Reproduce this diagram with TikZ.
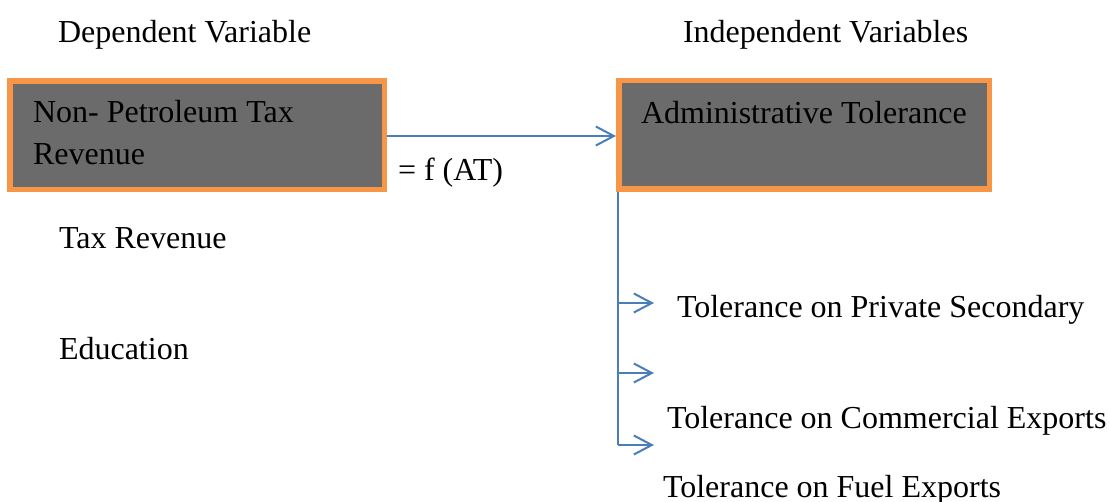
\documentclass[tikz,border=0pt]{standalone}
\usepackage{fontspec}
\setmainfont{Liberation Serif}
\usetikzlibrary{arrows.meta}
\definecolor{boxfill}{HTML}{6B6B6B}
\definecolor{boxedge}{HTML}{F79646}
\definecolor{linkblue}{HTML}{4A7EBB}
\begin{document}
\begin{tikzpicture}[x=1pt,y=-1pt,
  every node/.style={font=\fontsize{32}{42}\selectfont},
  lbl/.style={anchor=base west, inner sep=0pt, outer sep=0pt},
  varbox/.style={draw=boxedge, fill=boxfill, line width=5.5pt, inner sep=0pt, minimum height=108.5pt},
  link/.style={draw=linkblue, line width=2pt},
  arr/.style={link, -{Straight Barb[length=18pt,width=19pt,line width=2pt]}}]
\useasboundingbox (0,0) rectangle (1109,501);
\fill[white] (0,0) rectangle (1109,501);
% boxes
\node[varbox, minimum width=374.5pt] (L) at (197,135) {};
\node[varbox, minimum width=370.5pt] (R) at (804,134.5) {};
% texts
\node[lbl] (dep) at (58,42) {Dependent Variable};
\node[lbl] (indep) at (683,42) {Independent Variables};
\node[lbl] (ltxt1) at (33,122) {Non- Petroleum Tax};
\node[lbl] (ltxt2) at (33,164) {Revenue};
\node[lbl] (rtxt) at (641,123) {Administrative Tolerance};
\node[lbl] (fat) at (398,180) {= f (AT)};
\node[lbl] (tax) at (59,248) {Tax Revenue};
\node[lbl] (edu) at (59,359) {Education};
\node[lbl] (t1) at (677,317) {Tolerance on Private Secondary};
\node[lbl] (t2) at (667,428) {Tolerance on Commercial Exports};
\node[lbl] (t3) at (663,497) {Tolerance on Fuel Exports};
% connectors
\draw[arr] (L.east |- 0,136) -- (R.west |- 0,136);
\coordinate (vend) at (618,445);
\coordinate (j1) at (618,303);
\coordinate (j2) at (618,373);
\coordinate (b1) at (654,303);
\coordinate (b2) at (654,373);
\coordinate (b3) at (654,445);
\draw[link] (R.south west -| vend) -- (vend);
\draw[arr] (j1) -- (b1);
\draw[arr] (j2) -- (b2);
\draw[arr] (vend) -- (b3);
\end{tikzpicture}
\end{document}
